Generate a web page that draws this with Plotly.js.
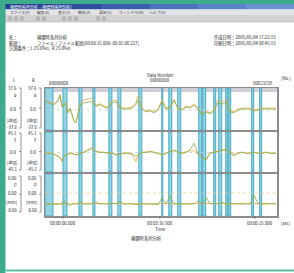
<!DOCTYPE html>
<html><head><meta charset="utf-8">
<script src="https://cdn.plot.ly/plotly-3.0.1.min.js"></script>
<style>html,body{margin:0;padding:0;background:#fff;overflow:hidden}#c{width:294px;height:273px}</style>
</head><body><div id="c"></div>
<script>
// ---- data ----
const dataNo = [100,501,902,1302,1503,1703,1903,2104,2304,2504,2705,2905,3105,3306,3506,3907,4307,4708,5109,5509,5910,6311,6711,7112,7513,7913,8314,8715,9115,9316,9716,10117,10518,10919,11319,11720,12121,12521,12922,13323,13723,14124,14525,14925,15326,15727,16127,16528,16929,17329,17730,18131,18531,18932,19333,19733,20134,20535,20936,21336,21737,22138,22538,22939,23139];
// panel 1 : theta [deg]
const thetaL = [21,15,13,21,33,8,13,15,-4,4,-8,-23,-27,-4,13,21,23,25,10,13,8,6,19,21,6,4,4,6,15,29,4,-2,0,-4,2,21,4,6,23,4,2,8,6,13,4,-8,-2,-6,0,21,17,23,-2,-4,2,4,4,4,0,2,4,4,4,4,4];
const thetaR = [19,13,11,19,30,6,11,13,-6,2,-10,-24,-26,-6,10,15,17,18,8,11,6,4,15,17,4,2,2,4,11,20,2,-4,-2,-6,0,18,2,4,20,2,0,6,4,10,2,-10,-4,-8,-2,15,12,16,-4,-6,0,2,2,2,-2,0,2,2,2,2,2];
// panel 2 : Y [deg]
const yawL = [-1,-1,-3,-10,-12,-21,-10,-6,-3,-1,-1,-3,-6,-3,-1,1,6,12,3,1,1,-1,-1,-6,-3,-1,-1,-3,-21,-6,1,1,3,1,-1,-6,-1,3,6,1,-1,1,4,4,-3,-10,-17,-1,1,3,6,8,1,-4,-1,1,-1,-1,1,-1,-1,1,-1,-1,-1];
const yawR = [-2,-2,-4,-9,-11,-18,-9,-5,-4,-2,-2,-4,-5,-4,-2,0,4,9,2,0,0,-2,-2,-5,-4,-2,-2,-4,-8,-5,0,0,2,0,-2,-5,-2,2,4,0,-2,0,6,21,-4,-9,-16,-2,0,2,4,6,0,-8,-2,0,-2,-2,0,-2,-2,0,-2,-2,-2];
// panel 3 : P [mm]
const pL = [-0.030,-0.030,-0.030,-0.031,-0.029,-0.030,-0.031,-0.030,-0.030,-0.032,-0.030,-0.030,-0.029,-0.030,-0.030,-0.030,-0.031,-0.030,-0.030,-0.030,-0.029,-0.030,-0.030,-0.030,-0.031,-0.030,-0.030,-0.030,-0.029,-0.030,-0.030,-0.030,-0.030,-0.030,-0.031,-0.030,-0.030,-0.030,-0.030,-0.030,-0.030,-0.029,-0.030,-0.030,-0.031,-0.030,-0.030,-0.030,-0.030,-0.030,-0.030,-0.031,-0.030,-0.030,-0.030,-0.030,-0.030,-0.030,-0.030,-0.030,-0.030,-0.030,-0.030,-0.030,-0.030];
const pR = [-0.032,-0.031,-0.032,-0.033,-0.030,-0.034,-0.022,-0.032,-0.031,-0.036,-0.032,-0.031,-0.031,-0.032,-0.024,-0.032,-0.032,-0.031,-0.026,-0.032,-0.031,-0.032,-0.030,-0.031,-0.024,-0.032,-0.031,-0.032,-0.031,-0.033,-0.031,-0.032,-0.031,-0.032,-0.033,-0.014,-0.031,-0.008,-0.032,-0.031,-0.032,-0.031,-0.032,-0.031,-0.022,-0.033,-0.012,-0.031,-0.032,-0.031,-0.026,-0.032,-0.031,-0.032,-0.031,-0.032,-0.031,-0.032,-0.006,-0.031,-0.032,-0.031,-0.032,-0.031,-0.032];
// compensation events (data number start / end)
const eventStart = [0,1800,3400,4800,6400,7300,9400,11700,12400,13300,15400,15800,16900,17400,18100,18400,20700,21500];
const eventEnd   = [800,2200,3700,5000,6700,7600,9700,11800,12700,13600,15700,16100,17100,17700,18300,18600,20900,21700];
// tick / axis labels
const colHeads = ['L','R'];
const panelLabels = [
  ['37.6','θ','0.0','[deg]','-37.6'],
  ['45.1','Y','0.0','[deg]','-45.1'],
  ['0.06','P','0.00','[mm]','-0.06']
];
const topLabels = ['00000000','Data Number','00000000','00023239','[No.]'];
const bottomLabels = ['00:00:00.000','00:03:16.500','Time','00:00:15.000','[sec]'];
const headerLeft = ['名：','範囲：','計測条件：L 25.0%n,  R 25.0%n'];
const headerLeft2 = ['補償時系列分析','ファイル / ファイル範囲[00:00:15.000~00:01:00.227]'];
const headerRight = ['作成日時：2005/05/04 17:22:15','印刷日時：2005/05/04 08:45:15'];
const menuItems = ['ファイル(F)','編集(E)','表示(V)','解析(A)','設定(S)','ウィンドウ(W)','ヘルプ(H)'];
const footer = '補償時系列分析';

// ---- layout helpers ----
const W=294,H=273;
const X=p=>p/W, Y=p=>1-p/H;
const FONT='"Noto Sans CJK JP", "Noto Sans", sans-serif';
const orange='#e5a846', green='#85b048';

const traces=[];
const series=[[thetaL,thetaR],[yawL,yawR],[pL,pR]];
series.forEach((s,i)=>{
  const xa=i===0?'x':'x'+(i+1), ya=i===0?'y':'y'+(i+1);
  traces.push({x:dataNo,y:s[0],xaxis:xa,yaxis:ya,type:'scatter',mode:'lines',line:{color:orange,width:0.8},hoverinfo:'skip',showlegend:false});
  traces.push({x:dataNo,y:s[1],xaxis:xa,yaxis:ya,type:'scatter',mode:'lines',line:{color:green,width:0.8},hoverinfo:'skip',showlegend:false});
});

const shapes=[];
const rectP=(x0,y0,x1,y1,c)=>shapes.push({type:'rect',xref:'paper',yref:'paper',x0:X(x0),x1:X(x1),y0:Y(y1),y1:Y(y0),fillcolor:c,line:{width:0},layer:'above'});
const lineP=(x0,y0,x1,y1,c,w)=>shapes.push({type:'line',xref:'paper',yref:'paper',x0:X(x0),x1:X(x1),y0:Y(y0),y1:Y(y1),line:{color:c,width:w||1},layer:'above'});
// window chrome
rectP(0,0,294,4,'#3eab8d');
const blues=['#23408f','#2d4e9e','#3a5fae','#4a72bc','#5a84c8','#6a94d0'];
blues.forEach((c,i)=>rectP(5+i*48.2,4,5+(i+1)*48.2+0.5,9.5,c));
rectP(5,9.5,294,15,'#e4e4e8');
rectP(5,15,294,22,'#d2d2d2');
lineP(5,22,294,22,'#b0b0b0',0.6);
[8,14,20,36,42,62,68,74,96,102].forEach(p=>rectP(p,16.5,p+4,20.5,'#b4b4b8'));
rectP(0,0,5.5,273,'#3eab8d');
rectP(5.5,269.5,294,271.5,'#5cbfa0');
// panel 1 header bar
shapes.push({type:'rect',xref:'x domain',yref:'y domain',x0:0,x1:1,y0:(130-92)/42,y1:1,fillcolor:'#d3ced6',line:{width:0},layer:'below'});
// event bands
[1,2,3].forEach(k=>{
  const xa=k===1?'x':'x'+k, ya=(k===1?'y':'y'+k)+' domain';
  eventStart.forEach((s,i)=>shapes.push({type:'rect',xref:xa,yref:ya,x0:s,x1:eventEnd[i],y0:0,y1:1,fillcolor:'#94d4e3',line:{color:'#48acc6',width:1},layer:'below'}));
  shapes.push({type:'line',xref:xa+' domain',yref:(k===1?'y':'y'+k),x0:0,x1:1,y0:0,y1:0,line:{color:k===3?'#e9c88a':'#c8c8c8',width:0.7,dash:'dot'},layer:'below'});
});
// left brackets
const panelPx=[[88,128],[133,170],[176,212]];
[21,41].forEach(bx=>{
  panelPx.forEach(([a,b])=>{
    lineP(bx,a,bx,b,'#666',0.7);
    lineP(bx-2,a,bx,a,'#666',0.7);
    lineP(bx-2,b,bx,b,'#666',0.7);
    lineP(bx-2,(a+b)/2,bx,(a+b)/2,'#666',0.7);
  });
});
// bottom ticks
[63,160,255].forEach(p=>lineP(p,216,p,219,'#666',0.7));

const ann=[];
const FS=4.3;
const txt=(x,y,t,opt={})=>ann.push(Object.assign({xref:'paper',yref:'paper',x:X(x),y:Y(y),text:t,showarrow:false,xanchor:'left',yanchor:'middle',font:{family:FONT,size:FS,color:'#222'}},opt));
txt(8,6.8,'補償時系列分析 - [補償時系列分析]',{font:{family:FONT,size:4,color:'#fff'}});
let mx=8; menuItems.forEach(m=>{txt(mx,12.3,m,{font:{family:FONT,size:3.8,color:'#333'}}); mx+=m.length*3.3+4;});
headerLeft.forEach((t,i)=>txt(7,38+i*5.3,t));
headerLeft2.forEach((t,i)=>txt(35,38+i*5.3,t));
headerRight.forEach((t,i)=>txt(212,38+i*5.3,t));
txt(14,80,colHeads[0],{xanchor:'center'});
txt(33,80,colHeads[1],{xanchor:'center'});
const labY=[[88.5,95,109,120,127],[133,139.5,152,162,168.5],[178,184.5,193,202,210]];
panelLabels.forEach((labs,k)=>labs.forEach((t,j)=>{
  txt(19,labY[k][j],t,{xanchor:'right'});
  txt(39,labY[k][j],t,{xanchor:'right'});
}));
txt(47,82.5,topLabels[0]);
txt(160,75,topLabels[1],{xanchor:'center'});
txt(160,80,topLabels[2],{xanchor:'center'});
txt(275,82.5,topLabels[3],{xanchor:'right'});
txt(279,78,topLabels[4]);
txt(48,222.5,bottomLabels[0]);
txt(160,222.5,bottomLabels[1],{xanchor:'center'});
txt(160,228.5,bottomLabels[2],{xanchor:'center'});
txt(275,222.5,bottomLabels[3],{xanchor:'right'});
txt(279,222.5,bottomLabels[4]);
txt(146,238,footer,{xanchor:'center'});

const ax=(dom,anchor,range)=>({domain:dom,anchor:anchor,range:range,showticklabels:false,ticks:'',showgrid:false,zeroline:false,showline:true,mirror:true,linecolor:'#8c8c8c',linewidth:1.5,fixedrange:true});
const layout={
  width:W,height:H,autosize:false,margin:{l:0,r:0,t:0,b:0},
  paper_bgcolor:'#fff',plot_bgcolor:'#fff',showlegend:false,
  xaxis:ax([X(45),X(277)],'y',[0,23239]),
  xaxis2:ax([X(45),X(277)],'y2',[0,23239]),
  xaxis3:ax([X(45),X(277)],'y3',[0,23239]),
  yaxis:ax([Y(130),Y(88)],'x',[-41.8,46]),
  yaxis2:ax([Y(172),Y(132)],'x2',[-43.9,46.1]),
  yaxis3:ax([Y(216),Y(174)],'x3',[-0.0658,0.0543]),
  shapes:shapes,annotations:ann
};
Plotly.newPlot('c',traces,layout,{staticPlot:true,displayModeBar:false});
</script></body></html>
